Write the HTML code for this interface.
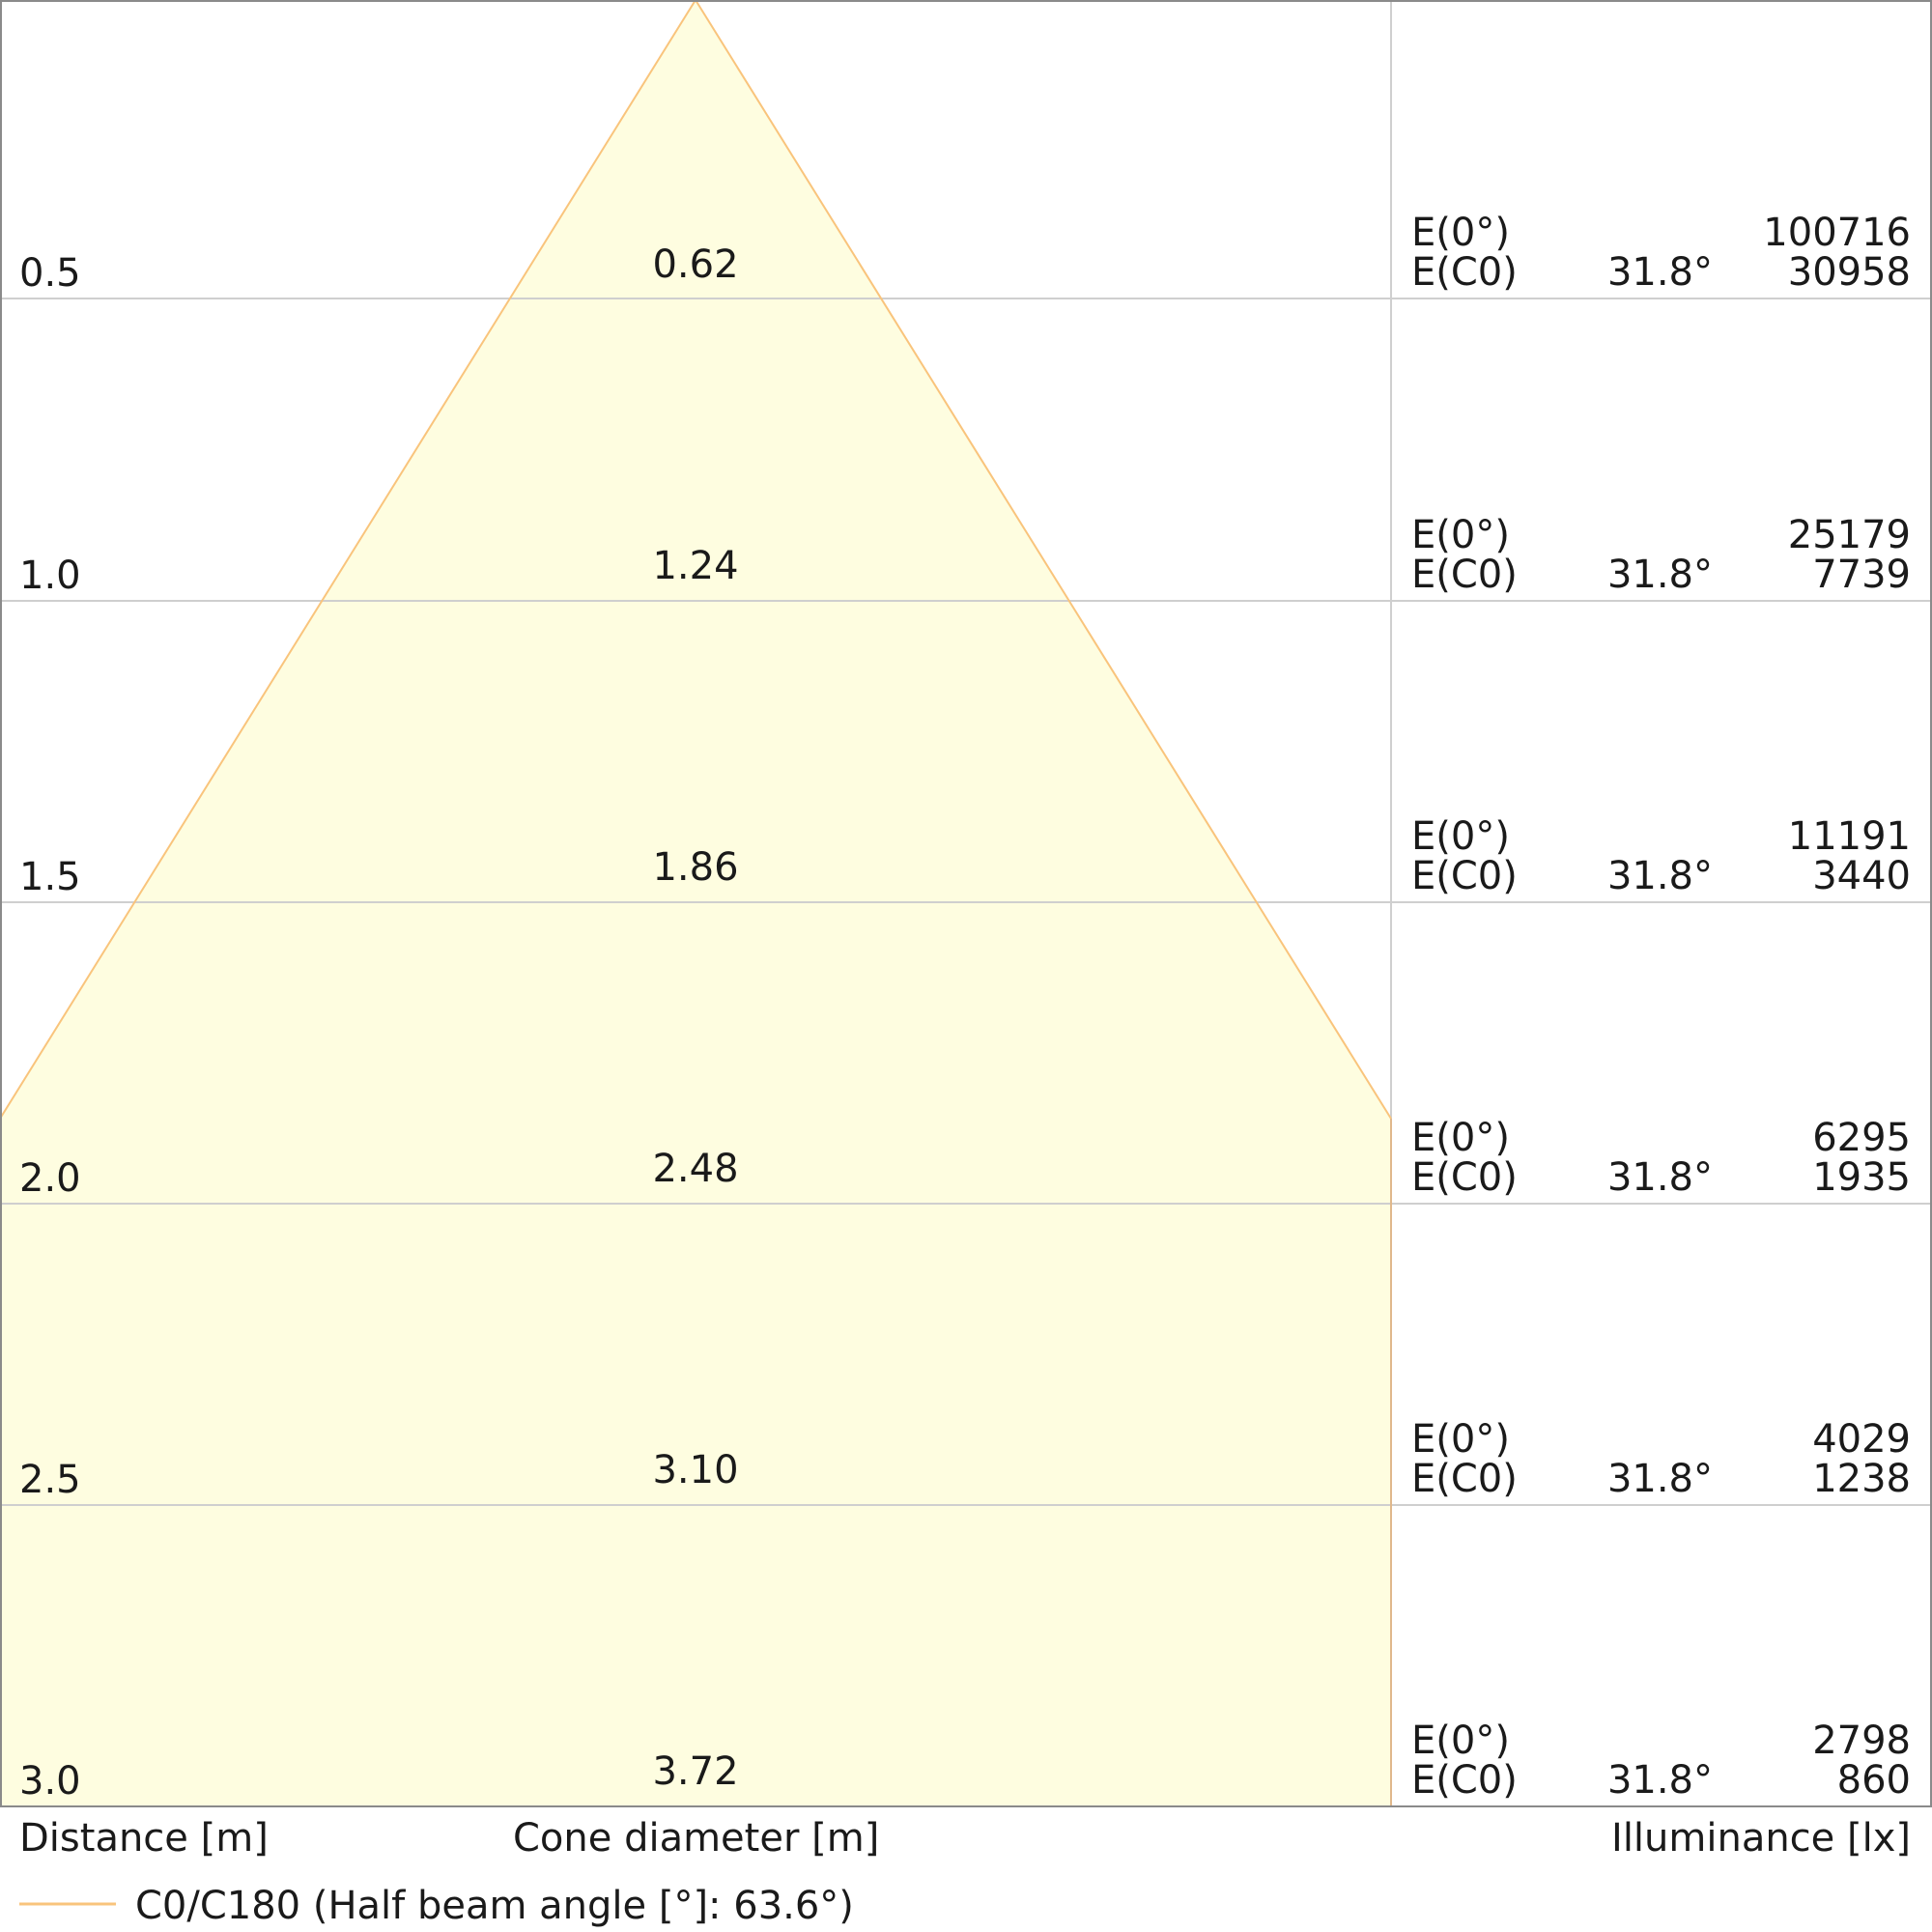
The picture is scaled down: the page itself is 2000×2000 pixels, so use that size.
<!DOCTYPE html>
<html><head><meta charset="utf-8"><style>
html,body{margin:0;padding:0;background:#fff;width:2000px;height:2000px;overflow:hidden}
text{font-family:"DejaVu Sans","Liberation Sans",sans-serif;font-size:40px;fill:#1a1a1a}
</style></head><body>
<svg width="2000" height="2000" viewBox="0 0 2000 2000" xmlns="http://www.w3.org/2000/svg">
<rect x="0" y="0" width="2000" height="2000" fill="#fff"/>
<path d="M720,0 L1440,1158 L1440,1870 L0,1870 L0,1158 Z" fill="#fefde0"/>
<g stroke="#cfcfcf" stroke-width="2">
<line x1="0" y1="309" x2="2000" y2="309"/>
<line x1="0" y1="622" x2="2000" y2="622"/>
<line x1="0" y1="934" x2="2000" y2="934"/>
<line x1="0" y1="1246" x2="2000" y2="1246"/>
<line x1="0" y1="1558" x2="2000" y2="1558"/>
<line x1="1440" y1="0" x2="1440" y2="1158"/>
</g>
<path d="M0,1158 L720,0 L1440,1158" fill="none" stroke="#f9c47c" stroke-width="2"/>
<line x1="1440" y1="1158" x2="1440" y2="1870" stroke="#e0b88c" stroke-width="2"/>
<line x1="0" y1="1158" x2="0" y2="1870" stroke="#e0b88c" stroke-width="2"/>
<rect x="1" y="1" width="1998" height="1869" fill="none" stroke="#8a8a8a" stroke-width="2"/>
<g>
<text x="20" y="296">0.5</text><text x="720" y="287" text-anchor="middle">0.62</text>
<text x="20" y="609">1.0</text><text x="720" y="599" text-anchor="middle">1.24</text>
<text x="20" y="921">1.5</text><text x="720" y="911" text-anchor="middle">1.86</text>
<text x="20" y="1233">2.0</text><text x="720" y="1223" text-anchor="middle">2.48</text>
<text x="20" y="1545">2.5</text><text x="720" y="1535" text-anchor="middle">3.10</text>
<text x="20" y="1857">3.0</text><text x="720" y="1847" text-anchor="middle">3.72</text>
</g>
<g>
<text x="1461" y="254">E(0°)</text><text x="1461" y="295">E(C0)</text><text x="1773" y="295" text-anchor="end">31.8°</text><text x="1978" y="254" text-anchor="end">100716</text><text x="1978" y="295" text-anchor="end">30958</text>
<text x="1461" y="567">E(0°)</text><text x="1461" y="608">E(C0)</text><text x="1773" y="608" text-anchor="end">31.8°</text><text x="1978" y="567" text-anchor="end">25179</text><text x="1978" y="608" text-anchor="end">7739</text>
<text x="1461" y="879">E(0°)</text><text x="1461" y="920">E(C0)</text><text x="1773" y="920" text-anchor="end">31.8°</text><text x="1978" y="879" text-anchor="end">11191</text><text x="1978" y="920" text-anchor="end">3440</text>
<text x="1461" y="1191">E(0°)</text><text x="1461" y="1232">E(C0)</text><text x="1773" y="1232" text-anchor="end">31.8°</text><text x="1978" y="1191" text-anchor="end">6295</text><text x="1978" y="1232" text-anchor="end">1935</text>
<text x="1461" y="1503">E(0°)</text><text x="1461" y="1544">E(C0)</text><text x="1773" y="1544" text-anchor="end">31.8°</text><text x="1978" y="1503" text-anchor="end">4029</text><text x="1978" y="1544" text-anchor="end">1238</text>
<text x="1461" y="1815">E(0°)</text><text x="1461" y="1856">E(C0)</text><text x="1773" y="1856" text-anchor="end">31.8°</text><text x="1978" y="1815" text-anchor="end">2798</text><text x="1978" y="1856" text-anchor="end">860</text>
</g>
<text x="20" y="1916">Distance [m]</text>
<text x="531" y="1916">Cone diameter [m]</text>
<text x="1978" y="1916" text-anchor="end">Illuminance [lx]</text>
<line x1="20" y1="1971" x2="120" y2="1971" stroke="#f9c47c" stroke-width="3"/>
<text x="140" y="1986">C0/C180 (Half beam angle [°]: 63.6°)</text>
</svg>
</body></html>
